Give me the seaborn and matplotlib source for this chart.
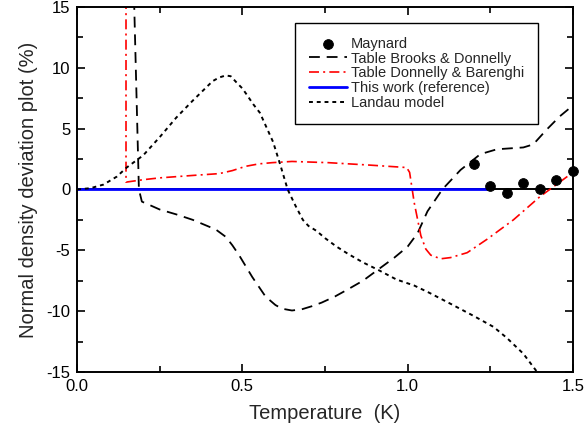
import numpy as np
import pandas as pd
import matplotlib
matplotlib.use("Agg")
import matplotlib.pyplot as plt
import seaborn as sns

# data
maynard_T = [1.20, 1.25, 1.30, 1.35, 1.40, 1.45, 1.50]
maynard_dev = [2.1, 0.3, -0.3, 0.55, 0.0, 0.8, 1.5]

brooks_T = [0.172, 0.187, 0.196, 0.25, 0.30, 0.35, 0.42, 0.45, 0.47, 0.49, 0.51,
            0.53, 0.55, 0.57, 0.60, 0.62, 0.65, 0.68, 0.71, 0.74, 0.78, 0.82,
            0.865, 0.92, 0.96, 1.00, 1.03, 1.06, 1.105, 1.16, 1.22, 1.27,
            1.35, 1.38, 1.42, 1.46, 1.50]
brooks_dev = [16.0, 0.0, -1.0, -1.65, -2.05, -2.5, -3.3, -3.9, -4.6, -5.4, -6.3,
              -7.2, -8.0, -8.8, -9.5, -9.8, -9.95, -9.85, -9.6, -9.3, -8.8, -8.2,
              -7.5, -6.4, -5.6, -4.7, -3.6, -1.8, 0.0, 1.6, 2.9, 3.3,
              3.45, 3.7, 4.9, 6.0, 6.9]

donnelly_T = [0.148, 0.148, 0.20, 0.25, 0.35, 0.43, 0.47, 0.51, 0.55, 0.59, 0.65,
              0.76, 0.885, 0.997, 1.006, 1.02, 1.04, 1.055, 1.07, 1.10, 1.13,
              1.18, 1.24, 1.32, 1.40, 1.46, 1.50]
donnelly_dev = [16.0, 0.6, 0.8, 0.95, 1.15, 1.3, 1.55, 1.9, 2.1, 2.2, 2.3,
                2.2, 2.0, 1.8, 1.4, -1.1, -3.8, -4.9, -5.4, -5.7, -5.6,
                -5.2, -4.1, -2.5, -0.6, 0.6, 1.4]

landau_T = [0.0, 0.04, 0.08, 0.12, 0.15, 0.20, 0.25, 0.30, 0.35, 0.38, 0.41,
            0.43, 0.45, 0.465, 0.482, 0.50, 0.513, 0.533, 0.553, 0.573, 0.593,
            0.615, 0.637, 0.66, 0.683, 0.70, 0.724, 0.75, 0.785, 0.82, 0.865,
            0.91, 0.966, 1.02, 1.066, 1.13, 1.20, 1.26, 1.30, 1.35, 1.40]
landau_dev = [0.0, 0.1, 0.4, 1.05, 1.8, 2.8, 4.3, 5.9, 7.3, 8.1, 8.9,
              9.2, 9.37, 9.3, 8.8, 8.3, 7.8, 7.0, 6.3, 5.1, 3.9,
              2.0, 0.0, -1.3, -2.5, -3.0, -3.4, -4.0, -4.7, -5.3, -6.0,
              -6.6, -7.4, -7.9, -8.5, -9.4, -10.4, -11.3, -12.2, -13.5, -15.3]

ref_T = [0.0, 1.25]
ref_dev = [0.0, 0.0]

sns.set_style("ticks")
plt.rcParams["font.family"] = ["Liberation Sans", "DejaVu Sans"]
plt.rcParams["axes.unicode_minus"] = False

fig = plt.figure(figsize=(5.84, 4.32), dpi=100)
ax = fig.add_axes([0.132, 0.139, 0.849, 0.845])

ax.axhline(0, color="black", lw=1.4, zorder=1)

sns.lineplot(x=brooks_T, y=brooks_dev, ax=ax, sort=False, estimator=None,
             color="black", lw=1.3, linestyle=(0, (6, 3.8)),
             label="Table Brooks & Donnelly")
sns.lineplot(x=donnelly_T, y=donnelly_dev, ax=ax, sort=False, estimator=None,
             color="red", lw=1.2, linestyle=(0, (6, 2.5, 1.2, 2.5)),
             label="Table Donnelly & Barenghi")
sns.lineplot(x=ref_T, y=ref_dev, ax=ax, sort=False, estimator=None,
             color="blue", lw=2.0, label="This work (reference)")
sns.lineplot(x=landau_T, y=landau_dev, ax=ax, sort=False, estimator=None,
             color="black", lw=1.4, linestyle=(0, (2, 2)),
             label="Landau model")
sns.scatterplot(x=maynard_T, y=maynard_dev, ax=ax, color="black", s=50,
                edgecolor="black", zorder=5, clip_on=False, label="Maynard")

ax.set_xlim(0, 1.5)
ax.set_ylim(-15, 15)
ax.set_xticks([0.0, 0.5, 1.0, 1.5])
ax.set_xticks([0.25, 0.75, 1.25], minor=True)
ax.set_yticks([-15, -10, -5, 0, 5, 10, 15])
ax.set_yticks([-12.5, -7.5, -2.5, 2.5, 7.5, 12.5], minor=True)
ax.set_xticklabels(["0.0", "0.5", "1.0", "1.5"])
ax.set_yticklabels(["-15", "-10", "-5", "0", "5", "10", "15"])
ax.tick_params(which="both", direction="in", top=True, right=True,
               labelsize=12, width=1.2, colors="black")
ax.tick_params(which="major", length=6, pad=5)
ax.tick_params(which="minor", length=4)
for sp in ax.spines.values():
    sp.set_linewidth(1.4)
    sp.set_color("black")

ax.set_xlabel("Temperature  (K)", fontsize=14.5, labelpad=7)
ax.set_ylabel("Normal density deviation plot (%)", fontsize=14.5, labelpad=6)

h, l = ax.get_legend_handles_labels()
order = ["Maynard", "Table Brooks & Donnelly", "Table Donnelly & Barenghi",
         "This work (reference)", "Landau model"]
hh = [h[l.index(o)] for o in order]
leg = ax.legend(hh, order, loc="upper right", bbox_to_anchor=(0.929, 0.956),
                borderaxespad=0, fontsize=10.5, frameon=True, fancybox=False,
                edgecolor="black", framealpha=1, labelspacing=0.05,
                handlelength=2.6, handletextpad=0.25, borderpad=0.95)
leg.get_frame().set_linewidth(1.0)

fig.savefig("out.png", dpi=100)
